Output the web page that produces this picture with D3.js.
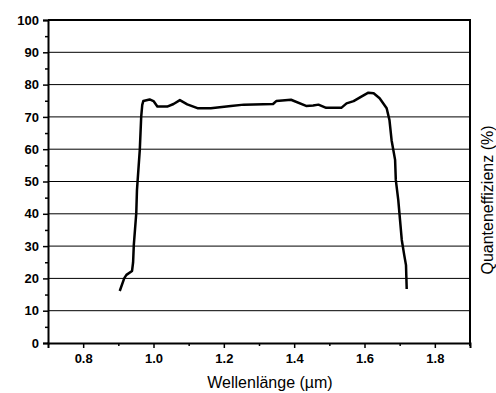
<!DOCTYPE html>
<meta charset="utf-8">
<style>
body { margin: 0; background: white; }
text { font-family: "Liberation Sans", Arial, sans-serif; fill: black; }
.grid line { stroke: black; stroke-width: 1px; }
</style>
<body>
<script src="https://d3js.org/d3.v7.min.js"></script>
<script>

// wavelength (µm) and quantum efficiency (%)
var wavelength = [0.904, 0.917, 0.923, 0.939, 0.942, 0.944, 0.951, 0.953, 0.961, 0.965, 0.968, 0.971,
  0.989, 1.0, 1.011, 1.039, 1.057, 1.075, 1.096, 1.125, 1.163, 1.22, 1.257, 1.34, 1.349, 1.391,
  1.434, 1.454, 1.469, 1.491, 1.534, 1.549, 1.569, 1.591, 1.611, 1.626, 1.643, 1.663, 1.671,
  1.677, 1.687, 1.689, 1.696, 1.701, 1.706, 1.713, 1.718, 1.72];
var efficiency = [16.1, 20.1, 21.1, 22.3, 25, 30.3, 40.2, 47.4, 59.8, 70, 73.7, 74.9,
  75.4, 74.9, 73.2, 73.2, 74, 75.2, 73.9, 72.7, 72.7, 73.4, 73.8, 74, 74.9, 75.3,
  73.4, 73.5, 73.8, 72.8, 72.8, 74.2, 74.9, 76.3, 77.5, 77.3, 75.8, 72.7, 69,
  62.8, 56.7, 50.5, 44.3, 38.1, 31.9, 27.2, 24.1, 16.7];

var xMajor = [0.8, 1.0, 1.2, 1.4, 1.6, 1.8];
var xMinor = [0.9, 1.1, 1.3, 1.5, 1.7];
var yMajor = [0, 10, 20, 30, 40, 50, 60, 70, 80, 90, 100];
var yMinor = [5, 15, 25, 35, 45, 55, 65, 75, 85, 95];

var width = 496, height = 393;
var margin = {top: 20, right: 26, bottom: 50, left: 48};

var svg = d3.select("body").append("svg")
    .attr("width", width)
    .attr("height", height);

var x = d3.scaleLinear().domain([0.7, 1.9]).range([margin.left, width - margin.right]);
var y = d3.scaleLinear().domain([0, 100]).range([height - margin.bottom, margin.top]);

// horizontal grid
svg.append("g").attr("class", "grid")
  .selectAll("line")
  .data(yMajor.slice(1, -1))
  .enter().append("line")
  .attr("x1", x(0.7)).attr("x2", x(1.9))
  .attr("y1", d => y(d)).attr("y2", d => y(d));

// frame top + right
svg.append("path")
  .attr("d", "M" + x(0.7) + "," + y(100) + "H" + x(1.9) + "V" + (y(0) + 3))
  .attr("fill", "none").attr("stroke", "black").attr("stroke-width", 2);

// bottom axis
svg.append("g")
  .attr("transform", "translate(0," + y(0) + ")")
  .call(d3.axisBottom(x).tickValues(xMajor).tickFormat(d3.format(".1f")).tickSize(5).tickPadding(6));
svg.append("g")
  .attr("transform", "translate(0," + y(0) + ")")
  .call(d3.axisBottom(x).tickValues(xMinor).tickFormat("").tickSize(3))
  .select(".domain").remove();

// left axis
svg.append("g")
  .attr("transform", "translate(" + x(0.7) + ",0)")
  .call(d3.axisLeft(y).tickValues(yMajor).tickSize(5).tickPadding(4));
svg.append("g")
  .attr("transform", "translate(" + x(0.7) + ",0)")
  .call(d3.axisLeft(y).tickValues(yMinor).tickFormat("").tickSize(3))
  .select(".domain").remove();

svg.selectAll(".domain").attr("stroke-width", 2);
svg.selectAll(".tick line").attr("stroke-width", 1.5);
svg.selectAll(".tick text").attr("font-size", 13).attr("font-weight", "bold")
  .style("font-family", "'Liberation Sans', Arial, sans-serif");

// curve
var line = d3.line()
  .x((d, i) => x(wavelength[i]))
  .y(d => y(d));

svg.append("path")
  .datum(efficiency)
  .attr("d", line)
  .attr("fill", "none")
  .attr("stroke", "black")
  .attr("stroke-width", 2.5)
  .attr("stroke-linejoin", "round");

// titles
svg.append("text")
  .attr("x", 270).attr("y", 388)
  .attr("text-anchor", "middle")
  .attr("font-size", 16)
  .text("Wellenlänge (µm)");

svg.append("text")
  .attr("transform", "translate(493,200) rotate(-90)")
  .attr("text-anchor", "middle")
  .attr("font-size", 16)
  .text("Quanteneffizienz (%)");

</script>
</body>
</html>
